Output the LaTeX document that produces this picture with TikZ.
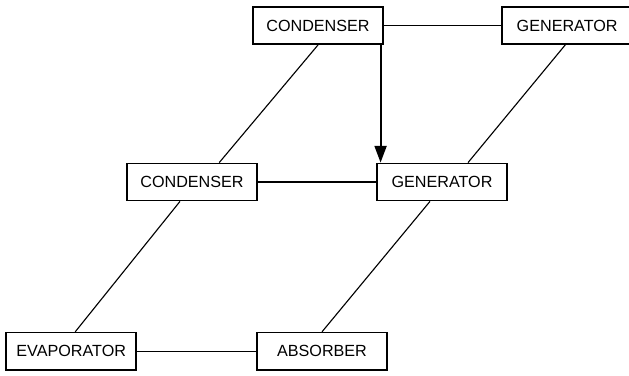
\documentclass[tikz,border=0pt]{standalone}
\usepackage{fontspec}
\setmainfont{Liberation Sans}
\usepackage{tikz}
\usetikzlibrary{arrows.meta,calc}

\begin{document}
\begin{tikzpicture}[>={Triangle[length=4.2mm,width=3mm]},
    unit/.style={draw,line width=1.1pt,fill=white,minimum width=3.25cm,minimum height=0.93cm,inner sep=0pt,font=\fontsize{11.5}{13}\selectfont},
    link/.style={line width=0.8pt}]
        \useasboundingbox (0,0) rectangle (15.725,-9.375);
        % top stage
        \node[unit] (cond1) at (7.95,-0.64) {CONDENSER};
        \node[unit] (gen1) at (14.18,-0.64) {GENERATOR};
        % middle stage
        \node[unit] (cond2) at (4.80,-4.55) {CONDENSER};
        \node[unit] (gen2) at (11.05,-4.55) {GENERATOR};
        % bottom stage
        \node[unit] (evap) at (1.78,-8.78) {EVAPORATOR};
        \node[unit] (abs) at (8.05,-8.78) {ABSORBER};
        % horizontal links
        \draw[link] (cond1.east) -- (gen1.west);
        \draw[link] (cond2.east) -- (gen2.west);
        \draw[link] (evap.east) -- (abs.west);
        % diagonal links
        \draw[link] (cond1.south) -- ([xshift=0.68cm]cond2.north);
        \draw[link] ([xshift=-0.3cm]cond2.south) -- ([xshift=0.1cm]evap.north);
        \draw[link] ([xshift=-0.05cm]gen1.south) -- ([xshift=0.65cm]gen2.north);
        \draw[link] ([xshift=-0.3cm]gen2.south) -- (abs.north);
        % heat flow
        \draw[->,line width=1.4pt] ([xshift=-0.08cm]cond1.south east) -- ([xshift=-0.08cm]cond1.south east |- gen2.north);
    \end{tikzpicture}
\end{document}
